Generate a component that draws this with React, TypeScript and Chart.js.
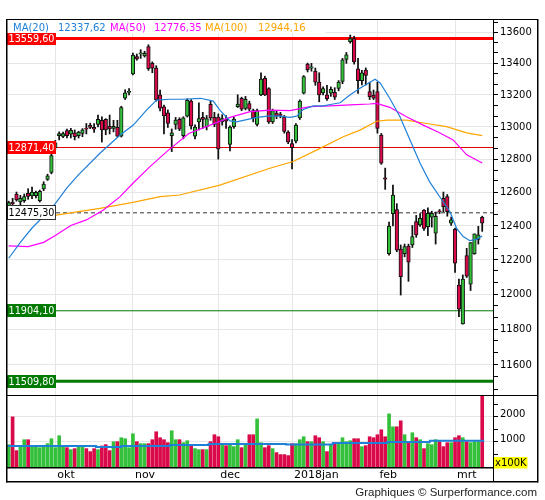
import React, { useEffect, useRef } from "react";
import { Chart, registerables } from "chart.js";

Chart.register(...registerables);

// ---------------- data ----------------
const OPEN = [
  12518, 12538, 12588, 12540, 12548, 12592, 12576, 12578, 12548, 12618,
  12676, 12718, 12870, 12944, 12940, 12976, 12954, 12962, 12944, 12958,
  12990, 13008, 12996, 13015, 13040, 13046, 13002, 12990, 12996, 12942,
  13178, 13215, 13332, 13443, 13460, 13448, 13508, 13400, 13370, 13200,
  13124, 13086, 12945, 13014, 13046, 12945, 13065, 13160, 12942, 13030,
  13058, 13000, 13140, 13058, 13060, 13030, 13046, 12890, 13000, 13125,
  13177, 13115, 13145, 13100, 13015, 13200, 13305, 13240, 13030, 13085,
  13075, 13060, 12966, 12895, 12910, 13055, 13210, 13395, 13370, 13350,
  13280, 13212, 13200, 13210, 13215, 13240, 13285, 13425, 13540, 13560,
  13365, 13290, 13357, 13220, 13199, 13220, 12948, 12685, 12234, 12470,
  12495, 12260, 12234, 12279, 12285, 12423, 12403, 12492, 12393, 12450,
  12354, 12485, 12562, 12572, 12413, 12377, 12052, 11830, 12222, 12057,
  12234, 12318, 12449,
];
const HIGH = [
  12545, 12562, 12600, 12580, 12588, 12620, 12630, 12606, 12612, 12662,
  12708, 12832, 12915, 12968, 12966, 12986, 12990, 12980, 12972, 12988,
  13020, 13022, 13020, 13073, 13062, 13050, 13073, 13040, 13040, 13128,
  13232, 13240, 13466, 13460, 13488, 13478, 13520, 13410, 13385, 13230,
  13136, 13105, 12986, 13058, 13056, 13062, 13175, 13170, 13012, 13150,
  13090, 13070, 13160, 13090, 13080, 13075, 13070, 13005, 13060, 13200,
  13185, 13190, 13160, 13110, 13110, 13340, 13318, 13245, 13110, 13100,
  13090, 13070, 12975, 12920, 13020, 13168, 13322, 13402, 13400, 13370,
  13340, 13250, 13260, 13250, 13245, 13290, 13432, 13470, 13583, 13575,
  13432, 13355, 13371, 13280, 13230, 13280, 12958, 12745, 12420, 12642,
  12530, 12285, 12290, 12290, 12400, 12460, 12470, 12495, 12505, 12485,
  12480, 12495, 12600, 12585, 12450, 12385, 12086, 12110, 12265, 12299,
  12350, 12395, 12455,
];
const LOW = [
  12510, 12515, 12545, 12518, 12538, 12556, 12560, 12565, 12540, 12608,
  12670, 12710, 12858, 12918, 12932, 12930, 12930, 12918, 12930, 12938,
  12955, 12988, 12965, 12998, 12905, 12950, 12955, 12968, 12936, 12936,
  13170, 13200, 13326, 13420, 13432, 13440, 13355, 13340, 13160, 13098,
  12955, 12995, 12846, 12984, 12975, 12925, 13060, 12985, 12925, 12980,
  12990, 12980, 13040, 13000, 12800, 13010, 12990, 12850, 12990, 13120,
  13100, 13105, 13100, 13030, 13005, 13195, 13195, 13020, 13020, 13050,
  13055, 12960, 12895, 12740, 12900, 13045, 13205, 13345, 13350, 13260,
  13156, 13200, 13165, 13190, 13170, 13225, 13270, 13400, 13530, 13395,
  13209, 13262, 13262, 13170, 13170, 12960, 12768, 12616, 12225, 12397,
  12245, 11994, 12215, 12073, 12270, 12330, 12395, 12370, 12340, 12390,
  12290, 12470, 12480, 12455, 12400, 12125, 11870, 11828, 12095, 12020,
  12230, 12290, 12365,
];
const CLOSE = [
  12536, 12528, 12552, 12562, 12572, 12574, 12600, 12598, 12604, 12648,
  12698, 12822, 12900, 12958, 12958, 12944, 12978, 12938, 12966, 12980,
  12984, 12995, 12984, 13046, 12980, 12980, 12986, 13002, 12942, 13120,
  13212, 13220, 13454, 13428, 13466, 13465, 13366, 13370, 13168, 13116,
  13068, 13020, 12962, 13041, 12985, 13055, 13165, 13005, 12998, 13050,
  13046, 13050, 13055, 13015, 12862, 13050, 13035, 12998, 13048, 13142,
  13110, 13172, 13110, 13055, 13100, 13300, 13200, 13030, 13100, 13065,
  13070, 12970, 12905, 12871, 13010, 13160, 13315, 13360, 13378, 13280,
  13200, 13240, 13175, 13235, 13185, 13280, 13422, 13455, 13560, 13410,
  13290, 13340, 13323, 13188, 13178, 12990, 12775, 12678, 12397, 12582,
  12255, 12100, 12275, 12184, 12334, 12344, 12443, 12383, 12472, 12472,
  12455, 12480, 12512, 12482, 12433, 12178, 11913, 12086, 12103, 12299,
  12350, 12344, 12413,
];
// volume in units of 100K
const VOLUME = [
  889, 1996, 652, 838, 1087, 1087, 838, 838, 770, 838,
  929, 1126, 770, 1245, 838, 770, 692, 731, 838, 838,
  731, 613, 731, 692, 838, 889, 652, 1008, 1008, 1166,
  1126, 770, 1324, 1008, 929, 929, 929, 1087, 1403, 1166,
  1087, 968, 1443, 1087, 1087, 968, 1047, 850, 731, 692,
  692, 692, 1008, 1285, 1205, 929, 850, 889, 811, 1087,
  770, 889, 1285, 1285, 1917, 968, 770, 850, 731, 573,
  494, 494, 455, 929, 929, 1087, 1205, 1008, 1008, 1245,
  1166, 1008, 613, 889, 929, 968, 1166, 1008, 1047, 1126,
  1126, 811, 850, 1205, 1166, 1285, 1482, 1205, 2115, 1600,
  1600, 1838, 1285, 1008, 1364, 1166, 1087, 731, 929, 889,
  1087, 1008, 811, 968, 968, 1166, 1245, 1166, 1008, 968,
  1008, 1008, 2950,
];

// moving averages, sampled along the session index
const MA20_AT = [0, 3, 6, 9, 12, 15, 18, 23.5, 28.7, 32.1, 35.5, 38.1, 41.5, 45, 49.4, 52.7, 54.4, 57, 58.7, 63.9, 67.3, 69.9, 72.5, 74.2, 75.9, 78.5, 81.1, 83.6, 85.4, 87.9, 90.5, 93.1, 94.4, 95.7, 98.2, 100.8, 103.4, 106, 108.5, 111.1, 113.7, 115.4, 117.1, 118.8, 120.5, 122];
const MA20 = [12207, 12300, 12385, 12455, 12530, 12625, 12705, 12836, 12948, 13010, 13104, 13167, 13172, 13172, 13178, 13160, 13104, 13036, 13030, 13058, 13068, 13066, 13058, 13066, 13108, 13130, 13130, 13142, 13150, 13199, 13241, 13279, 13298, 13275, 13177, 13062, 12918, 12775, 12660, 12570, 12482, 12383, 12334, 12310, 12318, 12337.62];
const MA50_AT = [0, 5, 9, 12, 16, 20, 24.4, 28.7, 32, 36.4, 40.7, 46.4, 51.9, 57, 62.2, 67.3, 72.5, 77.6, 82.8, 88, 93, 94.8, 98.2, 102.5, 106.8, 111, 114.5, 118, 122];
const MA50 = [12279, 12275, 12300, 12340, 12400, 12433, 12492, 12572, 12653, 12754, 12846, 12958, 13010, 13058, 13094, 13104, 13100, 13125, 13130, 13136, 13142, 13146, 13121, 13062, 13010, 12962, 12918, 12826, 12776.35];
const MA100_AT = [0, 12.2, 23.5, 32, 39, 44, 54.4, 67.3, 73.3, 80.2, 86.2, 90.5, 94.8, 97.4, 102.5, 107.7, 112.8, 118, 122];
const MA100 = [12440, 12462, 12502, 12538, 12572, 12582, 12642, 12744, 12785, 12866, 12938, 12979, 13034, 13041, 13041, 13020, 13000, 12962, 12944.16];
const VOLMA_AT = [-0.45, 22.5, 29, 41.5, 51.5, 71.5, 83.5, 97.5, 108.5, 122.5];
const VOLMA = [838, 798, 838, 877, 917, 895, 956, 996, 1047, 1047];

const MA_NAMES = ["MA(20)", "MA(50)", "MA(100)"];
const MA_LAST = ["12337,62", "12776,35", "12944,16"];

const LEVELS = [13559.6, 12871.4, 12475.3, 11904.1, 11509.8];
const LEVEL_LABELS = ["13559,60", "12871,40", "12475,30", "11904,10", "11509,80"];

const MONTH_TICKS = [12, 32, 54, 73, 95, 115];
const MONTH_LABELS = ["okt", "nov", "dec", "2018jan", "feb", "mrt"];
const PRICE_TICKS = [11600, 11800, 12000, 12200, 12400, 12600, 12800, 13000, 13200, 13400, 13600];
const VOL_TICKS = [500, 1000, 1500, 2000, 2500];
const VOL_LABELS = [1000, 2000];
const VOL_UNIT = "x100K";
const FOOTER = "Graphiques \u00A9 Surperformance.com";

// ---------------- styles / layout ----------------
const UP = "#35c03c";
const DOWN = "#d9094a";
const MA_COLORS = ["#1f80d8", "#ff00ff", "#ffa500"];
const LEVEL_COLORS = ["#ff0000", "#e00000", "#333333", "#007a00", "#007a00"];
const LEVEL_WIDTHS = [3, 1, 1, 1, 3];
const LEVEL_FILL = ["#ff0000", "#ff0000", "#ffffff", "#007a00", "#007a00"];
const LEVEL_TEXT = ["#ffffff", "#ffffff", "#000000", "#ffffff", "#ffffff"];
const LEGEND_X = [13, 58, 110, 154, 205, 258];

const X_MIN = -0.446;
const X_MAX = 124.78;
const P_MIN = 11433.9;
const P_MAX = 13687.5;
const V_MAX = 2866;
const FONT = '"DejaVu Sans", Verdana, sans-serif';

const isMult = (v: number, m: number) => Math.abs(v / m - Math.round(v / m)) < 1e-6;

function xScale() {
  return {
    type: "linear",
    min: X_MIN,
    max: X_MAX,
    bounds: "data",
    offset: false,
    afterBuildTicks: (s: any) => {
      s.ticks = MONTH_TICKS.map((v) => ({ value: v }));
    },
    ticks: { display: false },
    grid: { color: "#e6e6e6", lineWidth: 1, drawTicks: false, offset: false },
    border: { display: false },
    afterFit: (s: any) => {
      s.height = 0;
    },
  };
}

const priceOverlay = {
  id: "priceOverlay",
  afterDraw(chart: any) {
    const { ctx } = chart;
    const ys = chart.scales.y;
    ctx.save();
    // level labels
    ctx.textAlign = "left";
    ctx.textBaseline = "middle";
    ctx.font = "10px " + FONT;
    for (let k = 0; k < LEVELS.length; k++) {
      const py = ys.getPixelForValue(LEVELS[k]);
      const h = k === 2 ? 15 : 13;
      const top = Math.round(py - h / 2);
      ctx.fillStyle = LEVEL_FILL[k];
      ctx.fillRect(7, top, 49, h);
      if (k === 2) {
        ctx.strokeStyle = "#333";
        ctx.lineWidth = 1;
        ctx.strokeRect(7.5, top + 0.5, 48, h - 1);
      }
      ctx.fillStyle = LEVEL_TEXT[k];
      ctx.fillText(LEVEL_LABELS[k], 8.5, top + h / 2 + 0.5, 46);
    }
    // legend
    ctx.fillStyle = "#ffffff";
    ctx.fillRect(7, 20, 318, 13);
    ctx.font = "10px " + FONT;
    ctx.textBaseline = "alphabetic";
    for (let k = 0; k < 3; k++) {
      ctx.fillStyle = MA_COLORS[k];
      ctx.fillText(MA_NAMES[k], LEGEND_X[2 * k], 30.5);
      ctx.fillText(MA_LAST[k], LEGEND_X[2 * k + 1], 30.5);
    }
    // right axis labels
    ctx.fillStyle = "#000";
    ctx.textBaseline = "middle";
    PRICE_TICKS.forEach((v) => {
      ctx.fillText(String(v), 500, ys.getPixelForValue(v) + 0.5);
    });
    // frame
    ctx.fillStyle = "#000";
    ctx.fillRect(6, 19, 532, 1);
    ctx.fillRect(6, 19, 1.5, 380);
    ctx.fillRect(537, 19, 1.5, 380);
    ctx.fillRect(493, 19, 1, 380);
    ctx.restore();
  },
};

const volOverlay = {
  id: "volOverlay",
  afterDraw(chart: any) {
    const { ctx } = chart;
    const xs = chart.scales.x;
    const ys = chart.scales.y;
    ctx.save();
    ctx.fillStyle = "#000";
    ctx.textAlign = "left";
    ctx.textBaseline = "alphabetic";
    ctx.font = "11px " + FONT;
    MONTH_TICKS.forEach((t, k) => {
      ctx.fillText(MONTH_LABELS[k], xs.getPixelForValue(t) + 2, 82.5);
    });
    ctx.font = "10px " + FONT;
    ctx.textBaseline = "middle";
    VOL_LABELS.forEach((v) => {
      ctx.fillText(String(v), 500, ys.getPixelForValue(v) - 2);
    });
    ctx.fillStyle = "#ffff00";
    ctx.fillRect(494, 62, 33.5, 11.5);
    ctx.fillStyle = "#000";
    ctx.fillText(VOL_UNIT, 495, 68.2);
    // footer
    ctx.font = '11.5px "Liberation Sans", Arial, sans-serif';
    ctx.textAlign = "right";
    ctx.textBaseline = "alphabetic";
    ctx.fillStyle = "#222";
    ctx.fillText(FOOTER, 537, 100.5);
    // frame
    ctx.fillStyle = "#000";
    ctx.fillRect(6, 0, 532, 1);
    ctx.fillRect(6, 0, 1.5, 87.5);
    ctx.fillRect(537, 0, 1.5, 87.5);
    ctx.fillRect(493, 0, 1, 87);
    ctx.fillRect(6, 72, 487, 1.5);
    ctx.fillRect(6, 86, 532, 1.5);
    ctx.restore();
  },
};

export default function App() {
  const priceRef = useRef<HTMLCanvasElement>(null);
  const volRef = useRef<HTMLCanvasElement>(null);

  useEffect(() => {
    const idx = CLOSE.map((_, i) => i);
    const colors = idx.map((i) => (CLOSE[i] >= OPEN[i] ? UP : DOWN));
    const maSets = [
      [MA20_AT, MA20],
      [MA50_AT, MA50],
      [MA100_AT, MA100],
    ].map(([at, vals], k) => ({
      type: "line",
      data: (at as number[]).map((x, j) => ({ x, y: (vals as number[])[j] })),
      borderColor: MA_COLORS[k],
      borderWidth: 1.2,
      pointRadius: 0,
      tension: 0,
      order: 0,
    }));
    const levelSets = LEVELS.map((v, k) => ({
      type: "line",
      data: [
        { x: X_MIN, y: v },
        { x: X_MAX, y: v },
      ],
      borderColor: LEVEL_COLORS[k],
      borderWidth: LEVEL_WIDTHS[k],
      borderDash: k === 2 ? [4, 3] : [],
      pointRadius: 0,
      order: 3,
    }));

    const priceChart = new Chart(priceRef.current as HTMLCanvasElement, {
      type: "bar",
      data: {
        datasets: [
          ...maSets,
          {
            type: "bar",
            data: idx.map((i) => ({ x: i, y: [OPEN[i], CLOSE[i]] })),
            backgroundColor: colors,
            borderColor: "#111",
            borderWidth: 1,
            borderSkipped: false,
            barThickness: 3.6,
            minBarLength: 1.2,
            grouped: false,
            order: 1,
          },
          {
            type: "bar",
            data: idx.map((i) => ({ x: i, y: [LOW[i], HIGH[i]] })),
            backgroundColor: "#111",
            barThickness: 1.1,
            grouped: false,
            order: 2,
          },
          ...levelSets,
        ] as any,
      },
      options: {
        responsive: false,
        animation: false,
        events: [],
        layout: { padding: { left: 7, top: 19, right: 0, bottom: 0 } },
        plugins: { legend: { display: false }, tooltip: { enabled: false } },
        scales: {
          x: xScale() as any,
          y: {
            type: "logarithmic",
            position: "right",
            min: P_MIN,
            max: P_MAX,
            bounds: "data",
            afterBuildTicks: (s: any) => {
              const t: any[] = [];
              for (let k = 0; k <= 40; k++) {
                const v = 11400 + (k * 200) / 3;
                if (v >= P_MIN && v <= P_MAX) t.push({ value: v });
              }
              s.ticks = t;
            },
            ticks: { display: false },
            grid: {
              color: (c: any) => (c.tick && isMult(c.tick.value, 200) ? "#e6e6e6" : "rgba(0,0,0,0)"),
              drawTicks: true,
              tickLength: 5,
              tickColor: "#000",
              tickWidth: 1,
            },
            border: { display: false },
            afterFit: (s: any) => {
              s.width = 52;
            },
          } as any,
        },
      },
      plugins: [priceOverlay],
    } as any);

    const volChart = new Chart(volRef.current as HTMLCanvasElement, {
      type: "bar",
      data: {
        datasets: [
          {
            type: "line",
            data: VOLMA_AT.map((x, j) => ({ x, y: VOLMA[j] })),
            stepped: "before",
            borderColor: MA_COLORS[0],
            borderWidth: 2,
            pointRadius: 0,
            order: 0,
          },
          {
            type: "bar",
            data: idx.map((i) => ({ x: i, y: VOLUME[i] })),
            backgroundColor: colors,
            barThickness: 3,
            grouped: false,
            order: 1,
          },
        ] as any,
      },
      options: {
        responsive: false,
        animation: false,
        events: [],
        layout: { padding: { left: 7, top: 0, right: 0, bottom: 33 } },
        plugins: { legend: { display: false }, tooltip: { enabled: false } },
        scales: {
          x: xScale() as any,
          y: {
            type: "linear",
            position: "right",
            min: 0,
            max: V_MAX,
            bounds: "data",
            afterBuildTicks: (s: any) => {
              s.ticks = VOL_TICKS.map((v) => ({ value: v }));
            },
            ticks: { display: false },
            grid: {
              color: (c: any) => (c.tick && isMult(c.tick.value, 1000) ? "#e6e6e6" : "rgba(0,0,0,0)"),
              drawTicks: true,
              tickLength: 5,
              tickColor: "#000",
              tickWidth: 1,
            },
            border: { display: false },
            afterFit: (s: any) => {
              s.width = 52;
            },
          } as any,
        },
      },
      plugins: [volOverlay],
    } as any);

    return () => {
      priceChart.destroy();
      volChart.destroy();
    };
  }, []);

  return (
    <div style={{ position: "absolute", left: 0, top: 0, width: 545, height: 500, background: "#fff" }}>
      <canvas
        ref={priceRef}
        width={545}
        height={395}
        style={{ position: "absolute", left: 0, top: 0, width: 545, height: 395 }}
      />
      <canvas
        ref={volRef}
        width={545}
        height={105}
        style={{ position: "absolute", left: 0, top: 395, width: 545, height: 105 }}
      />
    </div>
  );
}
